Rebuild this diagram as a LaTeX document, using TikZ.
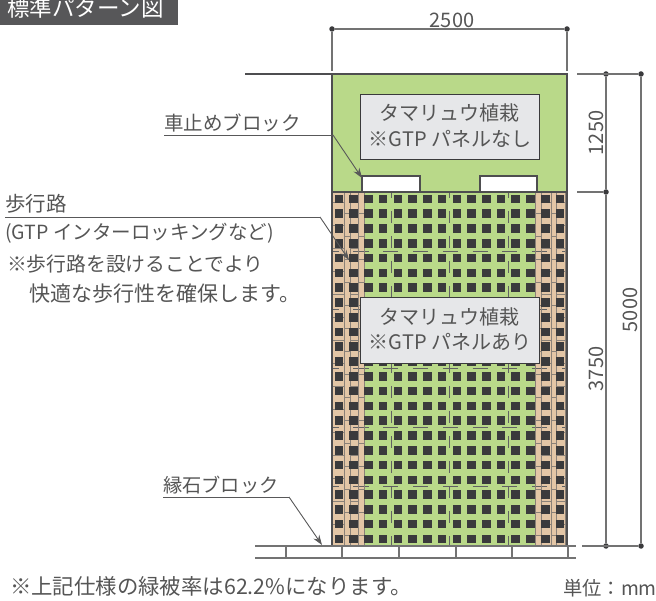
\documentclass[tikz,border=0pt]{standalone}
\usepackage{fontspec}
\setmainfont{Noto Sans CJK JP}
\usetikzlibrary{arrows.meta}
\definecolor{lawn}{HTML}{B9D989}
\definecolor{paver}{HTML}{E3C6A6}
\definecolor{slab}{HTML}{E6E7E9}
\definecolor{ink}{HTML}{3A3A3C}
\definecolor{joint}{HTML}{8A8178}
\definecolor{txt}{HTML}{555555}
\tikzset{
	label/.style={inner sep=0, text=txt, font=\fontsize{20}{20}\selectfont},
	dimdot/.style={circle, fill=ink, inner sep=0, minimum size=5.5pt},
	dimline/.style={draw=gray!90!black, line width=1.1pt},
	leader/.style={draw=ink!85, line width=.9pt},
	pointer/.style={leader, -{Stealth[length=10pt, width=7pt]}},
	edge line/.style={draw=ink!90, line width=1.1pt},
	infobox/.style={draw=ink, line width=1pt, fill=slab},
	seam/.style={draw=joint, line width=.9pt},
}
\begin{document}
\begin{tikzpicture}[x=1pt, y=-1pt]
	\useasboundingbox (0, 0) rectangle (656, 601);
	% title
	\fill[ink!85] (0, 0) rectangle (178, 25);
	\node[label, text=white, anchor=west, font=\fontsize{22.5}{22.5}\selectfont] (title) at (7, 8) {標準パターン図};

	% planting bed
	\fill[lawn] (332, 74) rectangle (567, 546);
	\foreach \yy in {251, 309, 368, 427, 486}
		\draw[ink!80, line width=.9pt, dash pattern=on 15pt off 14.7pt, dash phase=8pt] (332, \yy)--(567, \yy);
	\foreach \xx in {391, 449.5, 508}
		\draw[ink!80, line width=.9pt, dash pattern=on 12pt off 13pt, dash phase=6pt] (\xx, 192)--(\xx, 546);

	% paver strips
	\fill[paver] (333, 192) rectangle (364, 546);
	\fill[paver] (535, 192) rectangle (567, 546);
	\foreach \yy in {251, 309, 368, 427, 486}
	{
		\draw[ink!80, line width=.9pt] (332, \yy)--(339, \yy);
		\draw[ink!80, line width=.9pt] (353, \yy)--(364, \yy);
		\draw[ink!80, line width=.9pt] (535, \yy)--(547, \yy);
		\draw[ink!80, line width=.9pt] (562, \yy)--(567, \yy);
	}
	\foreach \xx in {344, 350, 358, 364, 535, 541, 551, 556, 565}
		\draw[seam] (\xx, 192)--(\xx, 546);
	\foreach \k in {0, ..., 14}
	{
		\pgfmathsetmacro{\ya}{202 + 23*\k}
		\pgfmathsetmacro{\yb}{213 + 23*\k}
		\draw[seam] (333, \ya)--(344, \ya);
		\draw[seam] (350, \ya)--(358, \ya);
		\draw[seam] (541, \ya)--(551, \ya);
		\draw[seam] (556, \ya)--(565, \ya);
		\draw[seam] (344, \yb)--(350, \yb);
		\draw[seam] (358, \yb)--(364, \yb);
		\draw[seam] (535, \yb)--(541, \yb);
		\draw[seam] (551, \yb)--(556, \yb);
	}

	% grass paver holes
	\foreach \i in {0, ..., 15}
		\foreach \j in {0, ..., 23}
			\fill[ink] ({339 + 14.73*\i - 4.3}, {199 + 14.78*\j - 4.3}) rectangle ++(8.6, 8.6);

	% curb blocks and signs
	\draw[edge line, fill=white] (362, 192)--(362, 176)--(420, 176)--(420, 192);
	\draw[edge line, fill=white] (480, 192)--(480, 176)--(537, 176)--(537, 192);
	\draw[infobox] (360, 95) rectangle (539, 160);
	\draw[infobox] (360, 298) rectangle (539, 364);
	\node[label] (bedtop) at (449, 113) {タマリュウ植栽};
	\node[label] (bedtopnote) at (450, 139) {※GTP パネルなし};
	\node[label] (bedlow) at (449, 317) {タマリュウ植栽};
	\node[label] (bedlownote) at (450, 342) {※GTP パネルあり};

	% outline
	\draw[edge line] (332, 546)--(332, 74)--(567, 74)--(567, 546);
	\draw[edge line] (332, 192)--(567, 192);
	\coordinate (roadl) at (245, 74);
	\coordinate (roadr) at (332, 74);
	\draw[edge line] (roadl)--(roadr);

	% footing
	\draw[dimline] (255, 546)--(576, 546);
	\draw[dimline] (255, 558)--(576, 558);
	\foreach \xx in {286, 342, 399, 456, 512, 568}
		\draw[dimline] (\xx, 546)--(\xx, 558);

	% dimensions
	\node[dimdot] (topl) at (332, 29) {};
	\node[dimdot] (topr) at (567, 29) {};
	\coordinate (topla) at (332, 71);
	\coordinate (topra) at (567, 71);
	\draw[dimline] (topl)--(topr);
	\draw[dimline] (topl)--(topla);
	\draw[dimline] (topr)--(topra);
	\node[label] (width) at (452, 20) {2500};

	\node[dimdot] (ina) at (606, 74) {};
	\node[dimdot] (inb) at (606, 192) {};
	\node[dimdot] (inc) at (606, 546) {};
	\node[dimdot] (outa) at (641, 74) {};
	\node[dimdot] (outc) at (641, 546) {};
	\coordinate (tica) at (577, 74);
	\coordinate (ticb) at (577, 192);
	\coordinate (ticc) at (582, 546);
	\draw[dimline] (ina)--(inb);
	\draw[dimline] (inb)--(inc);
	\draw[dimline] (outa)--(outc);
	\draw[dimline] (tica)--(outa);
	\draw[dimline] (ticb)--(inb);
	\draw[dimline] (ticc)--(outc);
	\node[label, rotate=90] (hupper) at (596, 133) {1250};
	\node[label, rotate=90] (hlower) at (596, 369) {3750};
	\node[label, rotate=90] (htotal) at (630, 310) {5000};

	% callouts
	\node[label, anchor=west, font=\fontsize{19.5}{20}\selectfont] (curb) at (164, 123) {車止めブロック};
	\coordinate (curba) at (164, 135);
	\coordinate (curbb) at (333, 135);
	\coordinate (curbc) at (362, 178);
	\draw[leader] (curba)--(curbb);
	\draw[pointer] (curbb)--(curbc);

	\node[label, anchor=west, font=\fontsize{20.5}{20}\selectfont] (walk) at (5, 204) {歩行路};
	\node[label, anchor=west, font=\fontsize{19.5}{20}\selectfont] (walkb) at (5, 233) {(GTP インターロッキングなど)};
	\node[label, anchor=west, font=\fontsize{19.8}{20}\selectfont] (walkc) at (7, 264) {※歩行路を設けることでより};
	\node[label, anchor=west, font=\fontsize{21}{21}\selectfont] (walkd) at (29, 294) {快適な歩行性を確保します。};
	\coordinate (walka) at (5, 217);
	\coordinate (walke) at (320, 217);
	\coordinate (walkf) at (349, 260);
	\draw[leader] (walka)--(walke);
	\draw[pointer] (walke)--(walkf);

	\node[label, anchor=west, font=\fontsize{19.2}{20}\selectfont] (edge) at (163, 485) {縁石ブロック};
	\coordinate (edgea) at (163, 497);
	\coordinate (edgeb) at (289, 497);
	\coordinate (edgec) at (322, 545);
	\draw[leader] (edgea)--(edgeb);
	\draw[pointer] (edgeb)--(edgec);

	% notes
	\node[label, anchor=west, font=\fontsize{21.4}{22}\selectfont] (note) at (10, 586) {※上記仕様の緑被率は62.2\%になります。};
	\node[label, anchor=east, font=\fontsize{19.3}{20}\selectfont] (unit) at (657, 588) {単位：mm};
\end{tikzpicture}
\end{document}
